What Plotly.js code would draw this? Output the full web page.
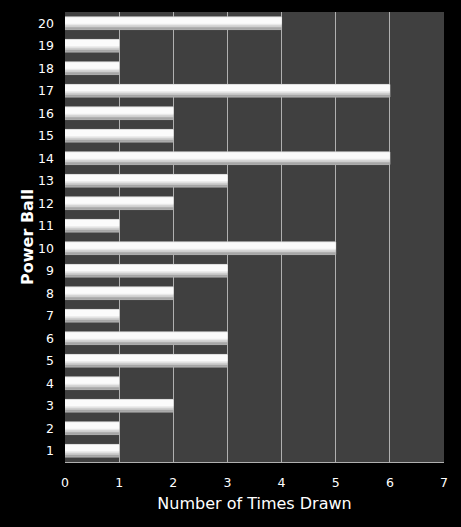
<!DOCTYPE html>
<html>
<head>
<meta charset="utf-8">
<script src="https://cdn.plot.ly/plotly-3.0.1.min.js"></script>
<style>
  html, body { margin: 0; padding: 0; background: #000; }
  #graph { width: 461px; height: 527px; }
</style>
</head>
<body>
<div id="graph"></div>
<script>
const balls = [1, 2, 3, 4, 5, 6, 7, 8, 9, 10, 11, 12, 13, 14, 15, 16, 17, 18, 19, 20]
const timesDrawn = [1, 1, 2, 1, 3, 3, 1, 2, 3, 5, 1, 2, 3, 6, 2, 2, 6, 1, 1, 4]

// bar drawn in layers to fake the glossy gradient
function layer(color, width, offset, line) {
    return {
        type: "bar",
        orientation: "h",
        x: timesDrawn,
        y: balls,
        width: width,
        offset: offset,
        marker: { color: color, line: line || { width: 0 } },
        hoverinfo: "x+y",
        showlegend: false
    }
}

const traces = [
    layer("#a6a6a6", 0.56, -0.28, { color: "#b0b0b0", width: 1 }),
    layer("#cfcfcf", 0.46, -0.18),
    layer("#e9e9e9", 0.38, -0.09),
    layer("#fbfbfb", 0.28, -0.02)
]

const layout = {
    width: 461,
    height: 527,
    paper_bgcolor: "#000",
    plot_bgcolor: "#404040",
    margin: { l: 65, r: 17, t: 12, b: 65 },
    barmode: "overlay",
    font: { family: "DejaVu Sans, Verdana, sans-serif", color: "#fff", size: 12 },
    xaxis: {
        range: [0, 7],
        dtick: 1,
        showgrid: true,
        gridcolor: "#b0b0b0",
        gridwidth: 1,
        zeroline: false,
        showline: true,
        linecolor: "#b0b0b0",
        mirror: false,
        ticks: "",
        ticklabelstandoff: 9,
        tickfont: { size: 12.5, color: "#fff" },
        title: { text: "Number of Times Drawn", font: { size: 16, color: "#fff" }, standoff: 8 },
        fixedrange: true
    },
    yaxis: {
        range: [0.5, 20.5],
        tickmode: "array",
        tickvals: balls,
        ticktext: balls.map(String),
        showgrid: false,
        zeroline: false,
        showline: false,
        ticks: "",
        ticklabelstandoff: 10,
        tickfont: { size: 12.5, color: "#fff" },
        title: { text: "<b>Power Ball</b>", font: { size: 16, color: "#fff" }, standoff: 0 },
        fixedrange: true
    }
}

Plotly.newPlot("graph", traces, layout, { displayModeBar: false, staticPlot: true })
</script>
</body>
</html>
